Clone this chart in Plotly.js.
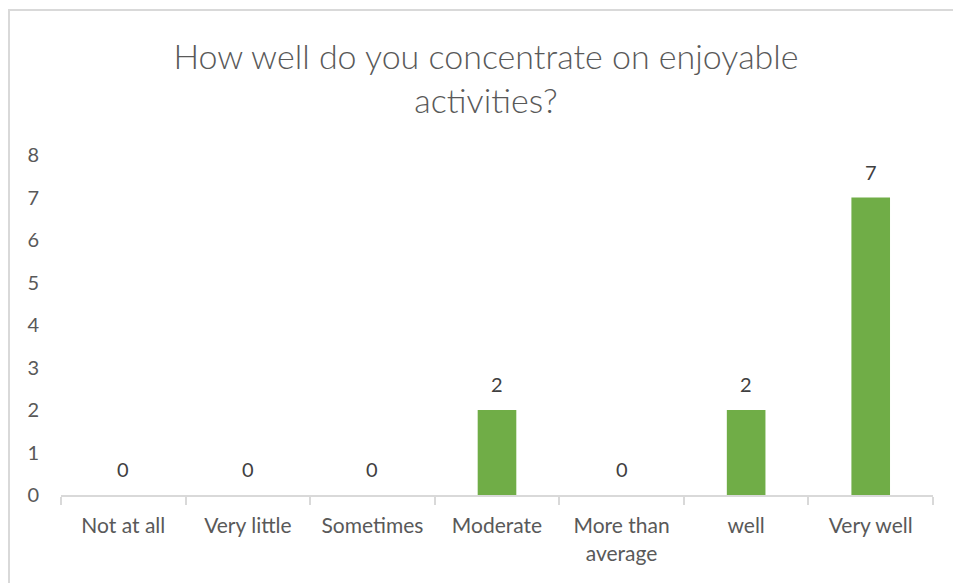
<!DOCTYPE html>
<html>
<head>
<meta charset="utf-8">
<script src="https://cdn.plot.ly/plotly-3.0.1.min.js"></script>
<style>
  html, body { margin: 0; padding: 0; background: #ffffff; }
  #wrap { position: relative; width: 953px; height: 583px; overflow: hidden; }
  #chart { position: absolute; left: 0; top: 0; width: 953px; height: 583px; }
  #frame { position: absolute; left: 8px; top: 9px; width: 960px; height: 600px;
           border-left: 2px solid #d9d9d9; border-top: 2px solid #d9d9d9; pointer-events: none; }
</style>
</head>
<body>
<div id="wrap">
  <div id="chart"></div>
  <div id="frame"></div>
</div>
<script>
const categories = ["Not at all", "Very little", "Sometimes", "Moderate", "More than<br>average", "well", "Very well"];
const values = [0, 0, 0, 2, 0, 2, 7];
const titleText = "How well do you concentrate on enjoyable<br>activities?";

const FONT = "Lato, 'Open Sans', sans-serif";

const trace = {
  type: "bar",
  x: categories,
  y: values,
  marker: { color: "#70ad47" },
  hoverinfo: "x+y"
};

const labels = categories.map((c, i) => ({
  x: c,
  y: values[i],
  xref: "x",
  yref: "y",
  text: String(values[i]),
  showarrow: false,
  yanchor: "middle",
  yshift: 26,
  font: { family: FONT, size: 20, color: "#404040" }
}));

const layout = {
  width: 953,
  height: 583,
  paper_bgcolor: "#ffffff",
  plot_bgcolor: "#ffffff",
  margin: { l: 61, r: 20, t: 155, b: 88 },
  bargap: 0.69,
  showlegend: false,
  font: { family: FONT, color: "#595959" },
  annotations: labels,
  title: {
    text: titleText,
    font: { family: FONT, size: 34, weight: 300, color: "#595959" },
    x: 486 / 953,
    xref: "container",
    xanchor: "center",
    y: 1 - 69 / 583,
    yref: "container",
    yanchor: "middle"
  },
  xaxis: {
    type: "category",
    showline: true,
    linecolor: "#d9d9d9",
    linewidth: 2,
    ticks: "outside",
    tickson: "boundaries",
    ticklen: 8,
    tickcolor: "#d9d9d9",
    tickwidth: 2,
    showgrid: false,
    zeroline: false,
    ticklabelstandoff: 11,
    tickfont: { family: FONT, size: 21, color: "#595959" }
  },
  yaxis: {
    range: [0, 8],
    dtick: 1,
    tick0: 0,
    showline: false,
    showgrid: false,
    zeroline: false,
    ticks: "",
    ticklabelstandoff: 21,
    tickfont: { family: FONT, size: 20, color: "#595959" }
  }
};

Plotly.newPlot("chart", [trace], layout, { displayModeBar: false, staticPlot: true });
</script>
</body>
</html>
